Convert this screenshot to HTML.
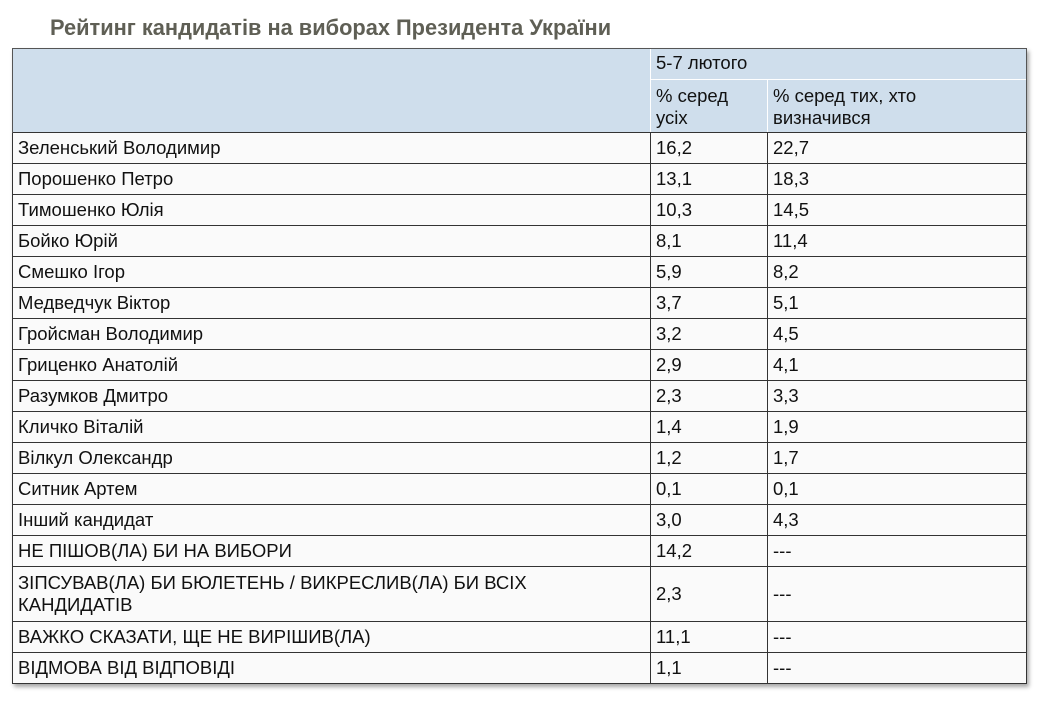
<!DOCTYPE html>
<html><head><meta charset="utf-8"><style>
body{margin:0;background:#fff;width:1047px;height:703px;overflow:hidden;font-family:"Liberation Sans","DejaVu Sans",sans-serif;}
h1{position:absolute;left:50px;top:15px;margin:0;font-size:21.8px;font-weight:bold;color:#5f5f55;white-space:nowrap}
table{position:absolute;left:12px;top:48px;border-collapse:collapse;table-layout:fixed;width:1014px;box-shadow:2px 3px 4px rgba(0,0,0,0.35);}
td{font-size:18.5px;color:#111;padding:0 0 0 5px;vertical-align:middle;line-height:22px;border:1px solid #333;background:#fafafa;overflow:hidden;white-space:nowrap}
tr.h td{background:#cfdeec;border:1px dotted #fff;vertical-align:top;padding-top:5px}
tr{height:31px}
</style></head><body>
<h1>Рейтинг кандидатів на виборах Президента України</h1>
<table>
<colgroup><col style="width:638px"><col style="width:117px"><col style="width:259px"></colgroup>
<tr class="h" style="height:31px"><td rowspan="2" style="border-left:1px solid #555;border-top:1px solid #555"></td><td colspan="2" style="border-top:1px solid #555;border-right:1px solid #555;padding-top:3px">5-7 лютого</td></tr>
<tr class="h" style="height:53px"><td>% серед<br>усіх</td><td style="border-right:1px solid #555">% серед тих, хто<br>визначився</td></tr>
<tr><td>Зеленський Володимир</td><td>16,2</td><td>22,7</td></tr>
<tr><td>Порошенко Петро</td><td>13,1</td><td>18,3</td></tr>
<tr><td>Тимошенко Юлія</td><td>10,3</td><td>14,5</td></tr>
<tr><td>Бойко Юрій</td><td>8,1</td><td>11,4</td></tr>
<tr><td>Смешко Ігор</td><td>5,9</td><td>8,2</td></tr>
<tr><td>Медведчук Віктор</td><td>3,7</td><td>5,1</td></tr>
<tr><td>Гройсман Володимир</td><td>3,2</td><td>4,5</td></tr>
<tr><td>Гриценко Анатолій</td><td>2,9</td><td>4,1</td></tr>
<tr><td>Разумков Дмитро</td><td>2,3</td><td>3,3</td></tr>
<tr><td>Кличко Віталій</td><td>1,4</td><td>1,9</td></tr>
<tr><td>Вілкул Олександр</td><td>1,2</td><td>1,7</td></tr>
<tr><td>Ситник Артем</td><td>0,1</td><td>0,1</td></tr>
<tr><td>Інший кандидат</td><td>3,0</td><td>4,3</td></tr>
<tr><td>НЕ ПІШОВ(ЛА) БИ НА ВИБОРИ</td><td>14,2</td><td>---</td></tr>
<tr style="height:55px"><td>ЗІПСУВАВ(ЛА) БИ БЮЛЕТЕНЬ / ВИКРЕСЛИВ(ЛА) БИ ВСІХ<br>КАНДИДАТІВ</td><td>2,3</td><td>---</td></tr>
<tr><td>ВАЖКО СКАЗАТИ, ЩЕ НЕ ВИРІШИВ(ЛА)</td><td>11,1</td><td>---</td></tr>
<tr><td>ВІДМОВА ВІД ВІДПОВІДІ</td><td>1,1</td><td>---</td></tr>
</table>
</body></html>
